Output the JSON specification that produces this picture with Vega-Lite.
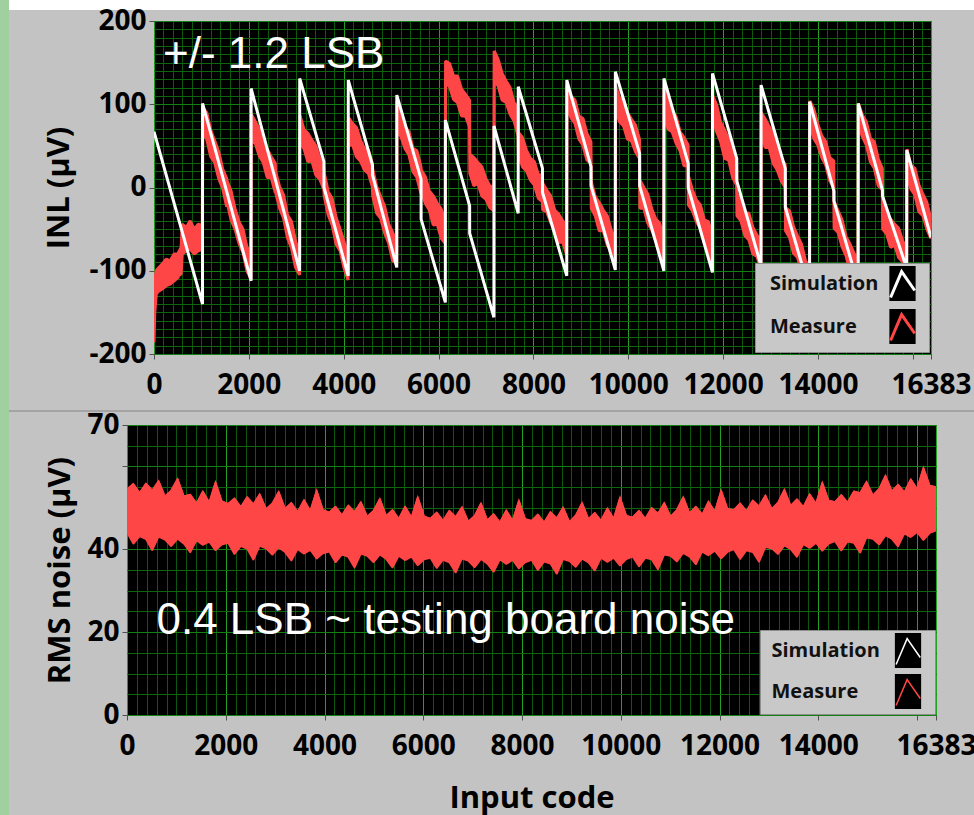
{
  "$schema": "https://vega.github.io/schema/vega-lite/v6.json",
  "background": "#c3c3c3",
  "padding": 0,
  "spacing": 0,
  "bounds": "flush",
  "config": {
    "view": {"stroke": null},
    "axis": {"labelFont": "Open Sans", "labelFontWeight": "bold", "labelFontSize": 28, "labelColor": "#000000", "titleFont": "Open Sans", "titleFontWeight": "bold", "titleFontSize": 31, "titleColor": "#000000", "tickColor": "#505050", "tickSize": 5, "domain": false, "labelOverlap": false, "labelFlush": false, "labelBound": false}
  },
  "hconcat": [
    {"width": 9, "height": 815, "view": {"fill": "#a0d0a0", "stroke": null}, "data": {"values": [{}]}, "mark": {"type": "rect", "opacity": 0}},
    {
      "spacing": -4,
      "bounds": "full",
      "vconcat": [
        {"width": 965, "height": 10, "view": {"fill": "#ffffff", "stroke": null}, "data": {"values": [{}]}, "mark": {"type": "rect", "opacity": 0}},
        {
          "spacing": 0,
          "bounds": "flush",
          "resolve": {"scale": {"stroke": "independent"}, "legend": {"stroke": "independent"}},
          "hconcat": [
            {"width": 145, "height": 333, "data": {"values": [{}]}, "mark": {"type": "rect", "opacity": 0}},
            {
              "width": 777,
              "height": 333,
              "view": {"fill": "#000000", "stroke": "#b0b0b0"},
              "resolve": {"axis": {"x": "independent", "y": "independent"}},
              "layer": [
                {
                  "data": {"values": [
                    {"x":0,"lo":-186,"hi":-150},{"x":16,"lo":-150,"hi":-110},{"x":48,"lo":-128,"hi":-100},{"x":88,"lo":-125,"hi":-97},{"x":172,"lo":-122,"hi":-92},{"x":256,"lo":-118,"hi":-86},{"x":340,"lo":-116,"hi":-88},{"x":424,"lo":-112,"hi":-80},{"x":508,"lo":-108,"hi":-80},{"x":516,"lo":-106,"hi":-78},{"x":572,"lo":-104,"hi":-72},{"x":596,"lo":-80,"hi":-44},{"x":680,"lo":-76,"hi":-48},{"x":764,"lo":-74,"hi":-40},{"x":848,"lo":-80,"hi":-50},{"x":932,"lo":-76,"hi":-44},{"x":1018,"lo":-74,"hi":-46},
                    {"x":1028,"lo":68,"hi":96},{"x":1112,"lo":58,"hi":90},{"x":1196,"lo":37,"hi":69},{"x":1280,"lo":30,"hi":56},{"x":1364,"lo":11,"hi":43},{"x":1448,"lo":-1,"hi":22},{"x":1532,"lo":-23,"hi":11},
                    {"x":1540,"lo":-17,"hi":8},{"x":1624,"lo":-39,"hi":-4},{"x":1708,"lo":-50,"hi":-25},{"x":1792,"lo":-67,"hi":-41},{"x":1876,"lo":-78,"hi":-50},{"x":1960,"lo":-100,"hi":-72},{"x":2044,"lo":-110,"hi":-78},
                    {"x":2052,"lo":56,"hi":88},{"x":2136,"lo":53,"hi":79},{"x":2220,"lo":38,"hi":70},{"x":2304,"lo":30,"hi":53},{"x":2388,"lo":12,"hi":46},{"x":2472,"lo":12,"hi":37},{"x":2556,"lo":-6,"hi":29},
                    {"x":2564,"lo":-6,"hi":19},{"x":2648,"lo":-25,"hi":1},{"x":2732,"lo":-37,"hi":-9},{"x":2816,"lo":-61,"hi":-33},{"x":2900,"lo":-73,"hi":-41},{"x":2984,"lo":-96,"hi":-64},{"x":3068,"lo":-105,"hi":-79},
                    {"x":3076,"lo":55,"hi":87},{"x":3160,"lo":47,"hi":70},{"x":3244,"lo":31,"hi":65},{"x":3328,"lo":32,"hi":57},{"x":3412,"lo":15,"hi":50},{"x":3496,"lo":10,"hi":35},{"x":3580,"lo":-2,"hi":24},
                    {"x":3588,"lo":-10,"hi":18},{"x":3672,"lo":-33,"hi":-5},{"x":3756,"lo":-45,"hi":-13},{"x":3840,"lo":-68,"hi":-36},{"x":3924,"lo":-76,"hi":-50},{"x":4008,"lo":-97,"hi":-65},{"x":4092,"lo":-111,"hi":-88},
                    {"x":4100,"lo":50,"hi":84},{"x":4184,"lo":52,"hi":77},{"x":4268,"lo":37,"hi":72},{"x":4352,"lo":32,"hi":57},{"x":4436,"lo":21,"hi":47},{"x":4520,"lo":17,"hi":45},{"x":4604,"lo":1,"hi":29},
                    {"x":4612,"lo":-10,"hi":22},{"x":4696,"lo":-31,"hi":1},{"x":4780,"lo":-37,"hi":-11},{"x":4864,"lo":-55,"hi":-23},{"x":4948,"lo":-67,"hi":-44},{"x":5032,"lo":-88,"hi":-54},{"x":5116,"lo":-91,"hi":-66},
                    {"x":5124,"lo":69,"hi":104},{"x":5208,"lo":61,"hi":86},{"x":5292,"lo":47,"hi":73},{"x":5376,"lo":39,"hi":67},{"x":5460,"lo":19,"hi":47},{"x":5544,"lo":12,"hi":44},{"x":5628,"lo":-7,"hi":25},
                    {"x":5636,"lo":-5,"hi":21},{"x":5720,"lo":-19,"hi":13},{"x":5804,"lo":-27,"hi":-4},{"x":5888,"lo":-45,"hi":-10},{"x":5972,"lo":-44,"hi":-19},{"x":6056,"lo":-61,"hi":-26},{"x":6140,"lo":-67,"hi":-42},
                    {"x":6148,"lo":126,"hi":152},{"x":6232,"lo":121,"hi":149},{"x":6316,"lo":106,"hi":134},{"x":6400,"lo":102,"hi":134},{"x":6484,"lo":86,"hi":118},{"x":6568,"lo":86,"hi":112},{"x":6652,"lo":73,"hi":105},
                    {"x":6660,"lo":17,"hi":40},{"x":6744,"lo":2,"hi":36},{"x":6828,"lo":5,"hi":30},{"x":6912,"lo":-10,"hi":25},{"x":6996,"lo":-14,"hi":11},{"x":7080,"lo":-24,"hi":2},{"x":7164,"lo":-28,"hi":0},
                    {"x":7172,"lo":128,"hi":164},{"x":7256,"lo":122,"hi":154},{"x":7340,"lo":105,"hi":137},{"x":7424,"lo":102,"hi":128},{"x":7508,"lo":88,"hi":120},{"x":7592,"lo":80,"hi":102},{"x":7676,"lo":62,"hi":96},
                    {"x":7684,"lo":41,"hi":66},{"x":7768,"lo":25,"hi":60},{"x":7852,"lo":20,"hi":45},{"x":7936,"lo":9,"hi":35},{"x":8020,"lo":3,"hi":31},{"x":8104,"lo":-13,"hi":15},{"x":8188,"lo":-17,"hi":15},
                    {"x":8196,"lo":-27,"hi":5},{"x":8280,"lo":-29,"hi":-3},{"x":8364,"lo":-42,"hi":-10},{"x":8448,"lo":-50,"hi":-27},{"x":8532,"lo":-66,"hi":-32},{"x":8616,"lo":-65,"hi":-40},{"x":8700,"lo":-81,"hi":-46},
                    {"x":8708,"lo":98,"hi":123},{"x":8792,"lo":84,"hi":110},{"x":8876,"lo":77,"hi":105},{"x":8960,"lo":58,"hi":86},{"x":9044,"lo":51,"hi":83},{"x":9128,"lo":33,"hi":65},{"x":9212,"lo":29,"hi":55},
                    {"x":9220,"lo":-25,"hi":7},{"x":9304,"lo":-34,"hi":-11},{"x":9388,"lo":-52,"hi":-18},{"x":9472,"lo":-52,"hi":-27},{"x":9556,"lo":-69,"hi":-34},{"x":9640,"lo":-76,"hi":-51},{"x":9724,"lo":-89,"hi":-63},
                    {"x":9732,"lo":95,"hi":123},{"x":9816,"lo":79,"hi":107},{"x":9900,"lo":74,"hi":106},{"x":9984,"lo":58,"hi":90},{"x":10068,"lo":56,"hi":82},{"x":10152,"lo":43,"hi":75},{"x":10236,"lo":35,"hi":58},
                    {"x":10244,"lo":-25,"hi":9},{"x":10328,"lo":-25,"hi":0},{"x":10412,"lo":-43,"hi":-8},{"x":10496,"lo":-51,"hi":-26},{"x":10580,"lo":-64,"hi":-38},{"x":10664,"lo":-71,"hi":-43},{"x":10748,"lo":-89,"hi":-61},
                    {"x":10756,"lo":88,"hi":120},{"x":10840,"lo":70,"hi":102},{"x":10924,"lo":67,"hi":93},{"x":11008,"lo":53,"hi":85},{"x":11092,"lo":44,"hi":67},{"x":11176,"lo":26,"hi":60},{"x":11260,"lo":26,"hi":51},
                    {"x":11268,"lo":-21,"hi":14},{"x":11352,"lo":-28,"hi":-3},{"x":11436,"lo":-41,"hi":-15},{"x":11520,"lo":-49,"hi":-21},{"x":11604,"lo":-67,"hi":-39},{"x":11688,"lo":-73,"hi":-41},{"x":11772,"lo":-91,"hi":-59},
                    {"x":11780,"lo":84,"hi":110},{"x":11864,"lo":67,"hi":99},{"x":11948,"lo":55,"hi":78},{"x":12032,"lo":35,"hi":69},{"x":12116,"lo":33,"hi":58},{"x":12200,"lo":12,"hi":47},{"x":12284,"lo":3,"hi":28},
                    {"x":12292,"lo":-34,"hi":-8},{"x":12376,"lo":-40,"hi":-12},{"x":12460,"lo":-58,"hi":-30},{"x":12544,"lo":-63,"hi":-31},{"x":12628,"lo":-80,"hi":-48},{"x":12712,"lo":-83,"hi":-57},{"x":12796,"lo":-97,"hi":-65},
                    {"x":12804,"lo":67,"hi":90},{"x":12888,"lo":48,"hi":82},{"x":12972,"lo":48,"hi":73},{"x":13056,"lo":29,"hi":64},{"x":13140,"lo":21,"hi":46},{"x":13224,"lo":8,"hi":34},{"x":13308,"lo":0,"hi":28},
                    {"x":13316,"lo":-52,"hi":-24},{"x":13400,"lo":-60,"hi":-28},{"x":13484,"lo":-79,"hi":-47},{"x":13568,"lo":-84,"hi":-58},{"x":13652,"lo":-100,"hi":-68},{"x":13736,"lo":-111,"hi":-88},{"x":13820,"lo":-130,"hi":-96},
                    {"x":13828,"lo":79,"hi":104},{"x":13912,"lo":59,"hi":94},{"x":13996,"lo":51,"hi":76},{"x":14080,"lo":36,"hi":62},{"x":14164,"lo":27,"hi":55},{"x":14248,"lo":8,"hi":36},{"x":14332,"lo":0,"hi":32},
                    {"x":14340,"lo":-49,"hi":-17},{"x":14424,"lo":-54,"hi":-28},{"x":14508,"lo":-71,"hi":-39},{"x":14592,"lo":-82,"hi":-59},{"x":14676,"lo":-102,"hi":-68},{"x":14760,"lo":-104,"hi":-79},{"x":14844,"lo":-124,"hi":-89},
                    {"x":14852,"lo":76,"hi":101},{"x":14936,"lo":61,"hi":87},{"x":15020,"lo":51,"hi":79},{"x":15104,"lo":31,"hi":59},{"x":15188,"lo":23,"hi":55},{"x":15272,"lo":2,"hi":34},{"x":15356,"lo":-3,"hi":23},
                    {"x":15364,"lo":-50,"hi":-18},{"x":15448,"lo":-56,"hi":-33},{"x":15532,"lo":-72,"hi":-38},{"x":15616,"lo":-69,"hi":-44},{"x":15700,"lo":-84,"hi":-49},{"x":15784,"lo":-89,"hi":-64},{"x":15868,"lo":-99,"hi":-73},
                    {"x":15876,"lo":18,"hi":46},{"x":15960,"lo":-2,"hi":26},{"x":16044,"lo":-9,"hi":23},{"x":16128,"lo":-29,"hi":3},{"x":16212,"lo":-34,"hi":-8},{"x":16296,"lo":-50,"hi":-18},{"x":16380,"lo":-61,"hi":-38}
                  ]},
                  "mark": {"type": "area", "interpolate": "linear", "clip": true, "color": "#ff4646", "stroke": "#ff4646", "strokeWidth": 3, "strokeJoin": "bevel"},
                  "encoding": {
                    "x": {"field": "x", "type": "quantitative", "scale": {"domain": [0, 16383], "nice": false, "zero": false},
                      "axis": {"orient": "bottom", "values": [0,200,400,600,800,1000,1200,1400,1600,1800,2000,2200,2400,2600,2800,3000,3200,3400,3600,3800,4000,4200,4400,4600,4800,5000,5200,5400,5600,5800,6000,6200,6400,6600,6800,7000,7200,7400,7600,7800,8000,8200,8400,8600,8800,9000,9200,9400,9600,9800,10000,10200,10400,10600,10800,11000,11200,11400,11600,11800,12000,12200,12400,12600,12800,13000,13200,13400,13600,13800,14000,14200,14400,14600,14800,15000,15200,15400,15600,15800,16000,16200], "grid": true, "gridColor": "#0c580c", "labels": false, "ticks": false, "domain": false, "title": null}},
                    "y": {"field": "lo", "type": "quantitative", "scale": {"domain": [-200, 200], "nice": false},
                      "axis": {"orient": "left", "values": [-200,-190,-180,-170,-160,-150,-140,-130,-120,-110,-100,-90,-80,-70,-60,-50,-40,-30,-20,-10,0,10,20,30,40,50,60,70,80,90,100,110,120,130,140,150,160,170,180,190,200], "grid": true, "gridColor": "#0d660d", "labels": false, "ticks": false, "domain": false, "title": null}},
                    "y2": {"field": "hi"}
                  }
                },
                {
                  "data": {"values": [
                    {"x":0,"v":67},{"x":1023,"v":-140},{"x":1024,"v":101},{"x":2047,"v":-112},{"x":2048,"v":119},{"x":3071,"v":-100},{"x":3072,"v":131},{"x":3583,"v":31},{"x":3584,"v":0},{"x":4095,"v":-106},{"x":4096,"v":129},{"x":4607,"v":27},{"x":4608,"v":15},{"x":5119,"v":-96},{"x":5120,"v":111},{"x":5631,"v":10},{"x":5632,"v":-38},{"x":6143,"v":-138},{"x":6144,"v":81},{"x":6655,"v":-22},{"x":6656,"v":-55},{"x":7167,"v":-156},{"x":7168,"v":74},{"x":7679,"v":-31},{"x":7680,"v":121},{"x":8191,"v":23},{"x":8192,"v":-6},{"x":8703,"v":-106},{"x":8704,"v":129},{"x":9215,"v":25},{"x":9216,"v":2},{"x":9727,"v":-99},{"x":9728,"v":139},{"x":10239,"v":41},{"x":10240,"v":2},{"x":10751,"v":-100},{"x":10752,"v":131},{"x":11263,"v":29},{"x":11264,"v":0},{"x":11775,"v":-102},{"x":11776,"v":137},{"x":12287,"v":35},{"x":12288,"v":8},{"x":12799,"v":-94},{"x":12800,"v":123},{"x":13311,"v":23},{"x":13312,"v":-24},{"x":13823,"v":-124},{"x":13824,"v":103},{"x":14335,"v":-4},{"x":14336,"v":-16},{"x":14847,"v":-117},{"x":14848,"v":101},{"x":15359,"v":-3},{"x":15360,"v":-10},{"x":15871,"v":-97},{"x":15872,"v":45},{"x":16383,"v":-60}
                  ]},
                  "mark": {"type": "line", "strokeWidth": 3, "clip": true},
                  "encoding": {
                    "x": {"field": "x", "type": "quantitative",
                      "axis": {"orient": "bottom", "values": [0,2000,4000,6000,8000,10000,12000,14000,16000,16383], "labelExpr": "datum.value == 16000 ? '' : '' + datum.value", "grid": true, "gridColor": "#22a022", "ticks": true, "labelPadding": 12, "title": null}},
                    "y": {"field": "v", "type": "quantitative",
                      "axis": {"orient": "left", "values": [-200,-100,0,100,200], "labelExpr": "datum.value < 0 ? '-' + abs(datum.value) : '' + datum.value", "grid": true, "gridColor": "#128012", "labelPadding": 3, "title": "INL (µV)", "titlePadding": 13}},
                    "stroke": {"datum": "Simulation", "type": "nominal",
                      "scale": {"domain": ["Simulation", "Measure"], "range": ["#ffffff", "#ff4646"]},
                      "legend": {
                        "title": null, "orient": "bottom-right", "offset": 2, "padding": 1.5,
                        "fillColor": "#c8c8c8", "strokeColor": "#8e8e8e",
                        "labelFont": "Open Sans", "labelFontWeight": "bold", "labelFontSize": 20, "labelColor": "#111111",
                        "symbolType": "M-0.75,1L-0.75,-1L0.75,-1L0.75,1L-0.75,1L-0.68,0.8L-0.05,-0.68L0.7,0.4M1.05,0L1.05,0",
                        "symbolSize": 1225, "symbolOffset": 127, "labelOffset": -151.5, "rowPadding": -9,
                        "symbolStrokeWidth": 3, "symbolFillColor": "#000000", "symbolOpacity": 1,
                        "symbolDash": [0, 126.2, 51.2, 400]
                      }}
                  }
                },
                {
                  "data": {"values": [{}]},
                  "mark": {"type": "text", "font": "Liberation Sans", "fontSize": 44, "color": "#ffffff", "align": "left", "baseline": "alphabetic"},
                  "encoding": {
                    "x": {"datum": 190, "type": "quantitative", "axis": null},
                    "y": {"datum": 144, "type": "quantitative", "axis": null},
                    "text": {"value": "+/- 1.2 LSB"}
                  }
                }
              ]
            }
          ]
        },
        {"width": 965, "height": 10, "data": {"values": [{}]}, "mark": {"type": "rect", "opacity": 0}},
        {"width": 965, "height": 2, "view": {"fill": "#a4a4a4", "stroke": null}, "data": {"values": [{}]}, "mark": {"type": "rect", "opacity": 0}},
        {"width": 965, "height": 2, "data": {"values": [{}]}, "mark": {"type": "rect", "opacity": 0}},
        {
          "spacing": 0,
          "bounds": "flush",
          "resolve": {"scale": {"stroke": "independent"}, "legend": {"stroke": "independent"}},
          "hconcat": [
            {"width": 118, "height": 290, "data": {"values": [{}]}, "mark": {"type": "rect", "opacity": 0}},
            {
              "width": 809,
              "height": 290,
              "view": {"fill": "#000000", "stroke": "#b0b0b0"},
              "resolve": {"axis": {"x": "independent", "y": "independent"}},
              "data": {"values": [
                {"x":0,"lo":44.0,"hi":54.5},{"x":128,"lo":41.3,"hi":55.8},{"x":256,"lo":43.1,"hi":53.6},{"x":384,"lo":42.4,"hi":55.9},{"x":512,"lo":39.7,"hi":54.2},{"x":640,"lo":43.0,"hi":56.5},{"x":768,"lo":42.3,"hi":52.8},{"x":896,"lo":40.7,"hi":54.2},{"x":1024,"lo":42.5,"hi":57.0},{"x":1152,"lo":41.3,"hi":52.8},{"x":1280,"lo":39.2,"hi":53.2},{"x":1408,"lo":42.1,"hi":51.1},{"x":1536,"lo":41.0,"hi":54.0},{"x":1664,"lo":41.8,"hi":51.3},{"x":1792,"lo":39.7,"hi":56.2},{"x":1920,"lo":41.1,"hi":51.6},
                {"x":2048,"lo":41.5,"hi":51.0},{"x":2176,"lo":38.8,"hi":52.3},{"x":2304,"lo":40.7,"hi":50.2},{"x":2432,"lo":40.1,"hi":52.6},{"x":2560,"lo":37.4,"hi":50.9},{"x":2688,"lo":40.8,"hi":53.3},{"x":2816,"lo":40.2,"hi":49.7},{"x":2944,"lo":38.6,"hi":51.1},{"x":3072,"lo":40.4,"hi":53.9},{"x":3200,"lo":39.3,"hi":49.8},{"x":3328,"lo":37.2,"hi":51.2},{"x":3456,"lo":40.0,"hi":49.0},{"x":3584,"lo":38.9,"hi":51.9},{"x":3712,"lo":39.8,"hi":49.3},{"x":3840,"lo":37.7,"hi":54.2},{"x":3968,"lo":39.0,"hi":49.5},
                {"x":4096,"lo":39.4,"hi":48.9},{"x":4224,"lo":36.8,"hi":50.3},{"x":4352,"lo":38.7,"hi":48.2},{"x":4480,"lo":38.1,"hi":50.6},{"x":4608,"lo":35.5,"hi":49.0},{"x":4736,"lo":38.9,"hi":51.4},{"x":4864,"lo":38.4,"hi":47.9},{"x":4992,"lo":36.8,"hi":49.3},{"x":5120,"lo":38.7,"hi":52.2},{"x":5248,"lo":37.6,"hi":48.1},{"x":5376,"lo":35.5,"hi":49.5},{"x":5504,"lo":38.4,"hi":47.4},{"x":5632,"lo":37.3,"hi":50.3},{"x":5760,"lo":38.2,"hi":47.7},{"x":5888,"lo":36.1,"hi":52.6},{"x":6016,"lo":37.5,"hi":48.0},
                {"x":6144,"lo":37.9,"hi":47.4},{"x":6272,"lo":35.4,"hi":48.9},{"x":6400,"lo":37.4,"hi":46.9},{"x":6528,"lo":36.8,"hi":49.3},{"x":6656,"lo":34.3,"hi":47.8},{"x":6784,"lo":37.7,"hi":50.2},{"x":6912,"lo":37.2,"hi":46.7},{"x":7040,"lo":35.6,"hi":48.1},{"x":7168,"lo":37.6,"hi":51.1},{"x":7296,"lo":36.5,"hi":47.0},{"x":7424,"lo":34.5,"hi":48.5},{"x":7552,"lo":37.5,"hi":46.5},{"x":7680,"lo":36.4,"hi":49.4},{"x":7808,"lo":37.4,"hi":46.9},{"x":7936,"lo":35.3,"hi":51.8},{"x":8064,"lo":36.8,"hi":47.3},
                {"x":8192,"lo":37.4,"hi":46.9},{"x":8320,"lo":34.9,"hi":48.4},{"x":8448,"lo":37.0,"hi":46.5},{"x":8576,"lo":36.5,"hi":49.0},{"x":8704,"lo":34.0,"hi":47.5},{"x":8832,"lo":37.6,"hi":50.1},{"x":8960,"lo":37.1,"hi":46.6},{"x":9088,"lo":35.7,"hi":48.2},{"x":9216,"lo":37.7,"hi":51.2},{"x":9344,"lo":36.8,"hi":47.3},{"x":9472,"lo":34.8,"hi":48.8},{"x":9600,"lo":37.9,"hi":46.9},{"x":9728,"lo":36.9,"hi":49.9},{"x":9856,"lo":37.9,"hi":47.4},{"x":9984,"lo":36.0,"hi":52.5},{"x":10112,"lo":37.6,"hi":48.1},
                {"x":10240,"lo":38.2,"hi":47.7},{"x":10368,"lo":35.8,"hi":49.3},{"x":10496,"lo":37.9,"hi":47.4},{"x":10624,"lo":37.5,"hi":50.0},{"x":10752,"lo":35.1,"hi":48.6},{"x":10880,"lo":38.7,"hi":51.2},{"x":11008,"lo":38.4,"hi":47.9},{"x":11136,"lo":37.0,"hi":49.5},{"x":11264,"lo":39.1,"hi":52.6},{"x":11392,"lo":38.2,"hi":48.7},{"x":11520,"lo":36.3,"hi":50.3},{"x":11648,"lo":39.4,"hi":48.4},{"x":11776,"lo":38.5,"hi":51.5},{"x":11904,"lo":39.6,"hi":49.1},{"x":12032,"lo":37.7,"hi":54.2},{"x":12160,"lo":39.3,"hi":49.8},
                {"x":12288,"lo":40.0,"hi":49.5},{"x":12416,"lo":37.6,"hi":51.1},{"x":12544,"lo":39.7,"hi":49.2},{"x":12672,"lo":39.3,"hi":51.8},{"x":12800,"lo":36.9,"hi":50.4},{"x":12928,"lo":40.5,"hi":53.0},{"x":13056,"lo":40.2,"hi":49.7},{"x":13184,"lo":38.8,"hi":51.3},{"x":13312,"lo":40.9,"hi":54.4},{"x":13440,"lo":40.0,"hi":50.5},{"x":13568,"lo":38.1,"hi":52.1},{"x":13696,"lo":41.2,"hi":50.2},{"x":13824,"lo":40.3,"hi":53.3},{"x":13952,"lo":41.5,"hi":51.0},{"x":14080,"lo":39.6,"hi":56.1},{"x":14208,"lo":41.3,"hi":51.8},
                {"x":14336,"lo":41.9,"hi":51.4},{"x":14464,"lo":39.6,"hi":53.1},{"x":14592,"lo":41.8,"hi":51.3},{"x":14720,"lo":41.5,"hi":54.0},{"x":14848,"lo":39.1,"hi":53.6},{"x":14976,"lo":42.8,"hi":56.3},{"x":15104,"lo":42.5,"hi":53.0},{"x":15232,"lo":41.1,"hi":54.6},{"x":15360,"lo":43.3,"hi":57.8},{"x":15488,"lo":42.5,"hi":54.0},{"x":15616,"lo":40.6,"hi":55.6},{"x":15744,"lo":43.8,"hi":53.8},{"x":15872,"lo":42.9,"hi":56.9},{"x":16000,"lo":44.1,"hi":54.6},{"x":16128,"lo":42.2,"hi":59.7},{"x":16256,"lo":43.9,"hi":55.4},{"x":16383,"lo":44.5,"hi":55.0}
              ]},
              "layer": [
                {
                  "mark": {"type": "area", "interpolate": "linear", "clip": true, "color": "#ff4646", "stroke": "#ff4646", "strokeWidth": 1.5, "strokeJoin": "bevel"},
                  "encoding": {
                    "x": {"field": "x", "type": "quantitative", "scale": {"domain": [0, 16383], "nice": false, "zero": false},
                      "axis": {"orient": "bottom", "values": [0,200,400,600,800,1000,1200,1400,1600,1800,2000,2200,2400,2600,2800,3000,3200,3400,3600,3800,4000,4200,4400,4600,4800,5000,5200,5400,5600,5800,6000,6200,6400,6600,6800,7000,7200,7400,7600,7800,8000,8200,8400,8600,8800,9000,9200,9400,9600,9800,10000,10200,10400,10600,10800,11000,11200,11400,11600,11800,12000,12200,12400,12600,12800,13000,13200,13400,13600,13800,14000,14200,14400,14600,14800,15000,15200,15400,15600,15800,16000,16200], "grid": true, "gridColor": "#0c580c", "labels": false, "ticks": false, "domain": false, "title": null}},
                    "y": {"field": "lo", "type": "quantitative", "scale": {"domain": [0, 70], "nice": false, "zero": false},
                      "axis": {"orient": "left", "values": [0,5,10,15,20,25,30,35,40,45,50,55,60,65,70], "grid": true, "gridColor": "#0d660d", "labels": false, "ticks": false, "domain": false, "title": null}},
                    "y2": {"field": "hi"}
                  }
                },
                {
                  "mark": {"type": "line", "strokeWidth": 1.5, "clip": true},
                  "encoding": {
                    "x": {"field": "x", "type": "quantitative",
                      "axis": {"orient": "bottom", "values": [0,2000,4000,6000,8000,10000,12000,14000,16000,16383], "labelExpr": "datum.value == 16000 ? '' : '' + datum.value", "grid": true, "gridColor": "#22a022", "labelPadding": 12, "title": "Input code", "titlePadding": 23}},
                    "y": {"field": "hi", "type": "quantitative",
                      "axis": {"orient": "left", "values": [0,20,40,60,70], "labelExpr": "datum.value == 60 ? '' : '' + datum.value", "grid": true, "gridColor": "#128012", "labelPadding": 3, "title": "RMS noise (µV)", "titlePadding": 10}},
                    "stroke": {"datum": "Measure", "type": "nominal",
                      "scale": {"domain": ["Simulation", "Measure"], "range": ["#ffffff", "#ff4646"]},
                      "legend": {
                        "title": null, "orient": "bottom-right", "offset": 1, "padding": 2,
                        "fillColor": "#c8c8c8", "strokeColor": "#8e8e8e",
                        "labelFont": "Open Sans", "labelFontWeight": "bold", "labelFontSize": 20, "labelColor": "#111111",
                        "symbolType": "M-0.75,1L-0.75,-1L0.75,-1L0.75,1L-0.75,1L-0.68,0.8L-0.05,-0.68L0.7,0.4M1.22,0L1.22,0",
                        "symbolSize": 1225, "symbolOffset": 127.5, "labelOffset": -155, "rowPadding": 0,
                        "symbolStrokeWidth": 1.5, "symbolFillColor": "#000000", "symbolOpacity": 1,
                        "symbolDash": [0, 126.2, 51.2, 400]
                      }}
                  }
                },
                {
                  "data": {"values": [{}]},
                  "mark": {"type": "text", "font": "Liberation Sans", "fontSize": 44, "color": "#ffffff", "align": "left", "baseline": "alphabetic"},
                  "encoding": {
                    "x": {"datum": 597, "type": "quantitative", "axis": null},
                    "y": {"datum": 19.5, "type": "quantitative", "axis": null},
                    "text": {"value": "0.4 LSB ~ testing board noise"}
                  }
                }
              ]
            }
          ]
        }
      ]
    }
  ]
}
